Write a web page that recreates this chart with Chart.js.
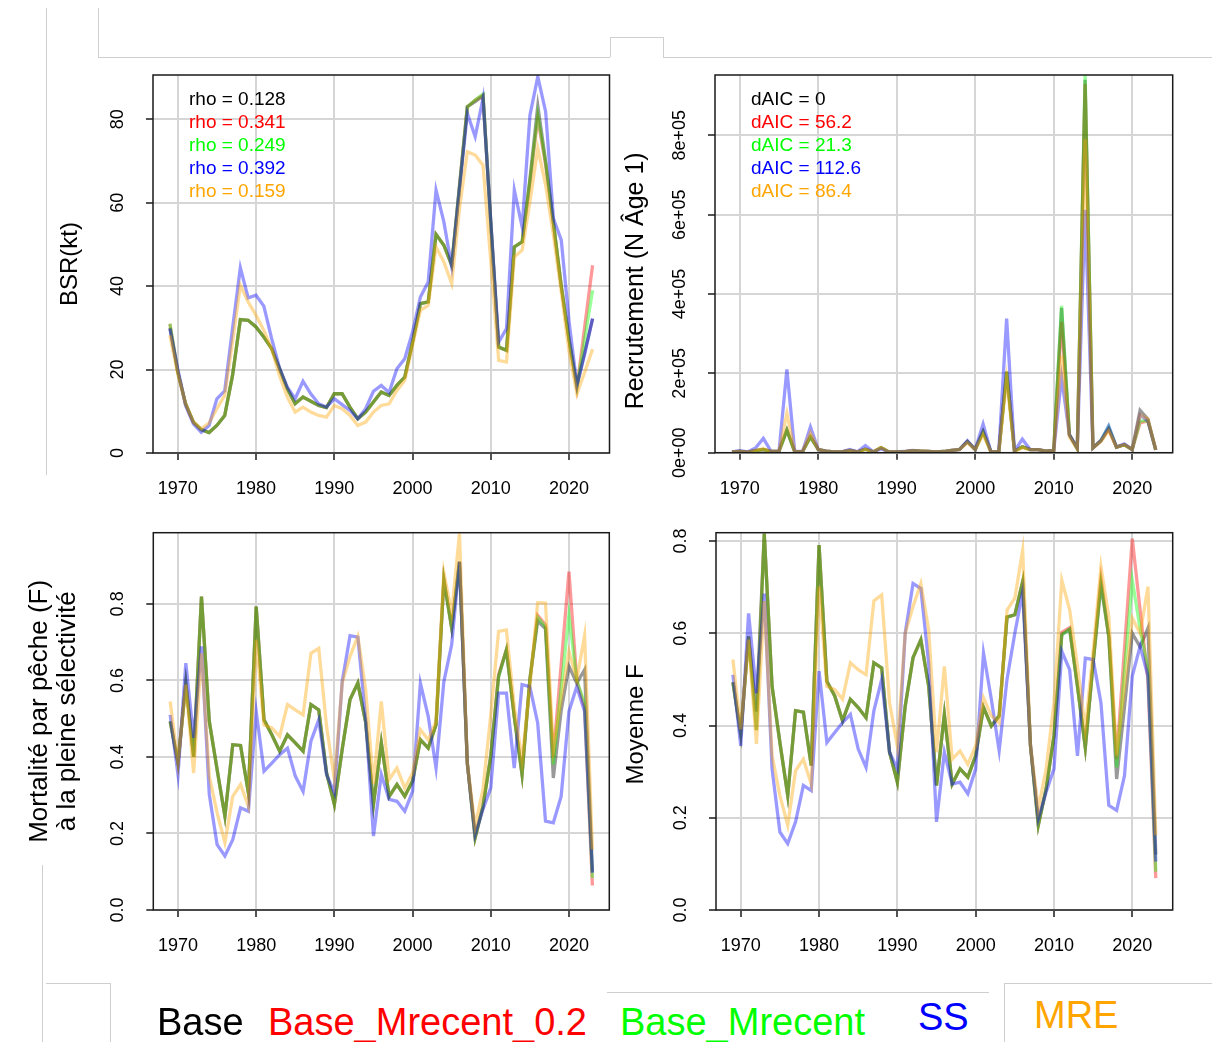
<!DOCTYPE html>
<html lang="fr">
<head>
<meta charset="utf-8">
<title>Diagnostics</title>
<script src="https://cdn.jsdelivr.net/npm/chart.js@4.4.1/dist/chart.umd.min.js"></script>
<style>
    body { margin: 0; background: #fff; }
    #page { position: relative; width: 1212px; height: 1042px; overflow: hidden; font-family: "Liberation Sans", Arial, sans-serif; }
    .panel { position: absolute; }
    .leg { position: absolute; font-size: 38px; line-height: 38px; white-space: nowrap; }
    .ln { position: absolute; background: #cfcfcf; }
</style>
</head>
<body>
<div id="page">
    <div class="panel" style="left:0;top:60px;width:612px;height:450px"><canvas id="c1"></canvas></div>
    <div class="panel" style="left:612px;top:60px;width:600px;height:450px"><canvas id="c2"></canvas></div>
    <div class="panel" style="left:0;top:515px;width:612px;height:460px"><canvas id="c3"></canvas></div>
    <div class="panel" style="left:612px;top:515px;width:600px;height:460px"><canvas id="c4"></canvas></div>

    <!-- traits gris du montage -->
    <div class="ln" style="left:46px;top:8px;width:1px;height:467px"></div>
    <div class="ln" style="left:98px;top:8px;width:1px;height:49px"></div>
    <div class="ln" style="left:98px;top:57px;width:512px;height:1px"></div>
    <div class="ln" style="left:610px;top:37px;width:1px;height:20px"></div>
    <div class="ln" style="left:610px;top:37px;width:53px;height:1px"></div>
    <div class="ln" style="left:663px;top:37px;width:1px;height:20px"></div>
    <div class="ln" style="left:663px;top:57px;width:549px;height:1px"></div>
    <div class="ln" style="left:42px;top:865px;width:1px;height:177px"></div>
    <div class="ln" style="left:46px;top:983px;width:64px;height:1px"></div>
    <div class="ln" style="left:110px;top:983px;width:1px;height:59px"></div>
    <div class="ln" style="left:607px;top:992px;width:382px;height:1px"></div>
    <div class="ln" style="left:1004px;top:983px;width:208px;height:1px"></div>
    <div class="ln" style="left:1004px;top:983px;width:1px;height:59px"></div>

    <div id="legend"></div>
</div>

<script>
// Années
const years = [
    1969, 1970, 1971, 1972, 1973, 1974, 1975, 1976, 1977, 1978,
    1979, 1980, 1981, 1982, 1983, 1984, 1985, 1986, 1987, 1988,
    1989, 1990, 1991, 1992, 1993, 1994, 1995, 1996, 1997, 1998,
    1999, 2000, 2001, 2002, 2003, 2004, 2005, 2006, 2007, 2008,
    2009, 2010, 2011, 2012, 2013, 2014, 2015, 2016, 2017, 2018,
    2019, 2020, 2021, 2022, 2023
];
const xTicks = [1970, 1980, 1990, 2000, 2010, 2020];

const seriesNames = ['Base', 'Base_Mrecent_0.2', 'Base_Mrecent', 'SS', 'MRE'];
const seriesColors = ['0, 0, 0', '255, 0, 0', '0, 255, 0', '0, 0, 255', '255, 165, 0'];

const rhoLabels = ['rho = 0.128', 'rho = 0.341', 'rho = 0.249', 'rho = 0.392', 'rho = 0.159'];
const daicLabels = ['dAIC = 0', 'dAIC = 56.2', 'dAIC = 21.3', 'dAIC = 112.6', 'dAIC = 86.4'];

// BSR (kt)
const bsrTicks = [0, 20, 40, 60, 80];
const bsrBase = [
    30.0, 19.5, 11.8, 7.4, 5.6, 4.9, 6.6, 9.0, 18.6, 32.0,
    31.8, 30.2, 27.8, 25.0, 20.2, 15.4, 11.8, 13.4, 12.4, 11.4,
    10.9, 14.2, 14.2, 11.0, 8.2, 9.8, 12.2, 14.6, 13.8, 16.2,
    18.2, 26.6, 35.8, 36.2, 52.4, 49.8, 45.0, 64.0, 83.0, 84.2,
    85.6, 55.0, 25.4, 24.6, 49.4, 50.6, 65.8, 83.2, 70.0, 55.0,
    40.0, 27.0, 16.2, 24.2, 32.2
];
const bsrM02 = [
    31.0, 19.5, 11.8, 7.4, 5.6, 4.9, 6.6, 9.0, 18.6, 32.0,
    31.8, 30.2, 27.8, 25.0, 20.2, 15.4, 11.8, 13.4, 12.4, 11.4,
    10.9, 14.2, 14.2, 11.0, 8.2, 9.8, 12.2, 14.6, 13.8, 16.2,
    18.2, 26.6, 35.8, 36.2, 52.4, 49.8, 45.0, 64.0, 83.0, 84.6,
    85.8, 55.0, 25.4, 24.6, 49.4, 50.6, 65.0, 80.2, 69.0, 55.0,
    40.0, 27.0, 15.6, 30.4, 45.0
];
const bsrMrecent = [
    31.0, 19.5, 11.8, 7.4, 5.6, 4.9, 6.6, 9.0, 18.6, 32.0,
    31.8, 30.2, 27.8, 25.0, 20.2, 15.4, 11.8, 13.4, 12.4, 11.4,
    10.9, 14.2, 14.2, 11.0, 8.2, 9.8, 12.2, 14.6, 13.8, 16.2,
    18.2, 26.6, 35.8, 36.2, 52.4, 49.8, 45.0, 64.0, 83.0, 84.6,
    86.0, 55.0, 25.4, 24.6, 49.4, 50.6, 65.4, 81.0, 69.5, 55.0,
    40.0, 27.0, 15.8, 27.4, 39.0
];
const bsrSS = [
    29.8, 20.2, 11.4, 7.0, 5.0, 6.6, 13.0, 14.9, 29.8, 44.4,
    37.2, 37.8, 35.2, 27.4, 20.4, 15.8, 13.0, 17.2, 14.2, 11.8,
    11.0, 13.0, 11.6, 10.2, 8.2, 10.6, 14.8, 16.2, 14.5, 20.2,
    22.6, 29.0, 37.4, 41.0, 63.0, 55.4, 44.6, 63.4, 81.4, 75.8,
    85.0, 55.4, 26.6, 29.8, 63.0, 54.2, 81.0, 90.2, 81.8, 56.2,
    51.0, 31.4, 16.2, 23.8, 32.2
];
const bsrMRE = [
    28.2, 19.0, 11.8, 7.4, 5.8, 7.2, 10.6, 13.8, 26.6, 40.2,
    36.2, 33.0, 29.4, 25.0, 18.6, 13.4, 9.8, 11.0, 9.8, 9.0,
    8.6, 11.4, 10.6, 9.0, 6.6, 7.4, 9.8, 11.4, 11.8, 15.0,
    17.4, 25.8, 34.2, 35.4, 49.4, 45.8, 40.6, 58.6, 72.2, 71.4,
    69.0, 45.8, 22.2, 21.8, 47.0, 48.6, 60.2, 73.0, 64.2, 52.2,
    38.6, 24.2, 14.2, 19.4, 24.9
];

// Recrutement (N âge 1)
const recTicks = [0, 200000, 400000, 600000, 800000];
const recBase = [
    2000, 3000, 1500, 5000, 8000, 3000, 4000, 57000, 2000, 3000,
    40000, 8000, 4000, 2000, 2000, 6000, 2000, 9000, 2000, 13000,
    2000, 2000, 2500, 5000, 4000, 3000, 2000, 3000, 6000, 8000,
    28000, 8000, 53000, 2000, 2000, 204000, 4000, 15000, 8000, 8000,
    4000, 6000, 365000, 45000, 10000, 940000, 12000, 30000, 60000, 14000,
    20000, 8000, 107000, 85000, 7000
];
const recM02 = [
    2000, 3000, 1500, 5000, 8000, 3000, 4000, 57000, 2000, 3000,
    40000, 8000, 4000, 2000, 2000, 6000, 2000, 9000, 2000, 13000,
    2000, 2000, 2500, 5000, 4000, 3000, 2000, 3000, 6000, 8000,
    28000, 8000, 53000, 2000, 2000, 204000, 4000, 15000, 8000, 8000,
    4000, 6000, 330000, 45000, 10000, 930000, 12000, 30000, 60000, 14000,
    20000, 8000, 75000, 80000, 7000
];
const recMrecent = [
    2000, 3000, 1500, 5000, 8000, 3000, 4000, 57000, 2000, 3000,
    40000, 8000, 4000, 2000, 2000, 6000, 2000, 9000, 2000, 13000,
    2000, 2000, 2500, 5000, 4000, 3000, 2000, 3000, 6000, 8000,
    28000, 8000, 53000, 2000, 2000, 204000, 4000, 15000, 8000, 8000,
    4000, 6000, 370000, 45000, 10000, 952000, 12000, 30000, 66000, 14000,
    20000, 8000, 80000, 80000, 7000
];
const recSS = [
    2000, 5000, 2000, 12000, 36000, 3000, 4000, 210000, 3000, 3000,
    65000, 8000, 4000, 2000, 2000, 8000, 2000, 18000, 2000, 10000,
    2000, 2000, 3000, 6000, 4000, 3000, 2000, 3000, 6000, 8000,
    30000, 8000, 72000, 2000, 2000, 338000, 4000, 34000, 8000, 8000,
    4000, 6000, 190000, 45000, 12000, 612000, 12000, 30000, 67000, 14000,
    22000, 8000, 95000, 80000, 7000
];
const recMRE = [
    2000, 3000, 1500, 6000, 10000, 3000, 4000, 99000, 2000, 3000,
    50000, 8000, 4000, 2000, 2000, 6000, 2000, 9000, 2000, 13000,
    2000, 2000, 2500, 5000, 4000, 3000, 2000, 3000, 6000, 8000,
    25000, 8000, 45000, 2000, 2000, 185000, 4000, 12000, 8000, 8000,
    4000, 6000, 245000, 40000, 10000, 790000, 12000, 28000, 55000, 14000,
    20000, 8000, 95000, 85000, 7000
];

// Mortalité par pêche (F) à la pleine sélectivité
const fTicks = [0, 0.2, 0.4, 0.6, 0.8];
const fBase = [
    0.493, 0.384, 0.593, 0.400, 0.819, 0.493, 0.367, 0.245, 0.432, 0.430,
    0.306, 0.793, 0.497, 0.458, 0.415, 0.458, 0.437, 0.415, 0.537, 0.523,
    0.358, 0.276, 0.420, 0.550, 0.593, 0.490, 0.276, 0.437, 0.297, 0.328,
    0.297, 0.337, 0.445, 0.423, 0.484, 0.863, 0.737, 0.910, 0.384, 0.189,
    0.271, 0.402, 0.610, 0.680, 0.506, 0.354, 0.602, 0.755, 0.735, 0.345,
    0.520, 0.637, 0.593, 0.628, 0.100
];
const fM02 = [
    0.493, 0.384, 0.593, 0.400, 0.819, 0.493, 0.367, 0.245, 0.432, 0.430,
    0.306, 0.793, 0.497, 0.458, 0.415, 0.458, 0.437, 0.415, 0.537, 0.523,
    0.358, 0.276, 0.420, 0.550, 0.593, 0.490, 0.276, 0.437, 0.297, 0.328,
    0.297, 0.337, 0.445, 0.423, 0.484, 0.863, 0.737, 0.910, 0.384, 0.189,
    0.271, 0.402, 0.615, 0.680, 0.506, 0.354, 0.602, 0.770, 0.745, 0.400,
    0.640, 0.884, 0.600, 0.530, 0.064
];
const fMrecent = [
    0.493, 0.384, 0.593, 0.400, 0.819, 0.493, 0.367, 0.245, 0.432, 0.430,
    0.306, 0.793, 0.497, 0.458, 0.415, 0.458, 0.437, 0.415, 0.537, 0.523,
    0.358, 0.276, 0.420, 0.550, 0.593, 0.490, 0.276, 0.437, 0.297, 0.328,
    0.297, 0.337, 0.445, 0.423, 0.484, 0.863, 0.737, 0.910, 0.384, 0.189,
    0.271, 0.402, 0.610, 0.680, 0.506, 0.354, 0.602, 0.765, 0.740, 0.380,
    0.580, 0.771, 0.600, 0.540, 0.084
];
const fSS = [
    0.510, 0.354, 0.645, 0.450, 0.689, 0.302, 0.171, 0.141, 0.184, 0.267,
    0.258, 0.519, 0.363, 0.384, 0.406, 0.423, 0.350, 0.310, 0.441, 0.497,
    0.354, 0.306, 0.597, 0.717, 0.713, 0.500, 0.193, 0.354, 0.289, 0.284,
    0.258, 0.310, 0.593, 0.506, 0.371, 0.597, 0.693, 0.910, 0.384, 0.197,
    0.263, 0.319, 0.567, 0.567, 0.371, 0.589, 0.584, 0.489, 0.232, 0.228,
    0.297, 0.519, 0.584, 0.519, 0.097
];
const fMRE = [
    0.545, 0.384, 0.589, 0.358, 0.671, 0.350, 0.254, 0.176, 0.297, 0.328,
    0.271, 0.706, 0.484, 0.476, 0.454, 0.537, 0.523, 0.510, 0.671, 0.684,
    0.480, 0.341, 0.593, 0.663, 0.715, 0.576, 0.330, 0.545, 0.341, 0.371,
    0.319, 0.358, 0.471, 0.445, 0.493, 0.882, 0.776, 0.984, 0.384, 0.219,
    0.315, 0.510, 0.728, 0.732, 0.532, 0.393, 0.584, 0.803, 0.802, 0.419,
    0.550, 0.676, 0.602, 0.717, 0.158
];

// Moyenne F
const mfTicks = [0, 0.2, 0.4, 0.6, 0.8];
const mfBase = [
    0.494, 0.381, 0.593, 0.430, 0.816, 0.485, 0.363, 0.248, 0.432, 0.429,
    0.313, 0.791, 0.496, 0.464, 0.410, 0.457, 0.439, 0.417, 0.536, 0.525,
    0.342, 0.277, 0.442, 0.547, 0.586, 0.485, 0.270, 0.424, 0.273, 0.306,
    0.288, 0.335, 0.439, 0.399, 0.421, 0.635, 0.640, 0.712, 0.356, 0.184,
    0.263, 0.378, 0.597, 0.609, 0.485, 0.352, 0.536, 0.704, 0.593, 0.284,
    0.440, 0.600, 0.570, 0.611, 0.120
];
const mfM02 = [
    0.494, 0.381, 0.593, 0.390, 0.816, 0.485, 0.363, 0.248, 0.432, 0.429,
    0.313, 0.791, 0.496, 0.464, 0.410, 0.457, 0.439, 0.417, 0.536, 0.525,
    0.342, 0.277, 0.442, 0.547, 0.586, 0.485, 0.270, 0.424, 0.273, 0.306,
    0.288, 0.335, 0.439, 0.399, 0.421, 0.635, 0.640, 0.712, 0.356, 0.184,
    0.263, 0.378, 0.602, 0.612, 0.485, 0.352, 0.536, 0.718, 0.593, 0.327,
    0.566, 0.805, 0.650, 0.500, 0.069
];
const mfMrecent = [
    0.494, 0.381, 0.593, 0.390, 0.816, 0.485, 0.363, 0.248, 0.432, 0.429,
    0.313, 0.791, 0.496, 0.464, 0.410, 0.457, 0.439, 0.417, 0.536, 0.525,
    0.342, 0.277, 0.442, 0.547, 0.586, 0.485, 0.270, 0.424, 0.273, 0.306,
    0.288, 0.335, 0.439, 0.399, 0.421, 0.635, 0.640, 0.712, 0.356, 0.184,
    0.263, 0.378, 0.597, 0.609, 0.485, 0.352, 0.536, 0.710, 0.593, 0.309,
    0.520, 0.715, 0.610, 0.521, 0.083
];
const mfSS = [
    0.510, 0.356, 0.643, 0.470, 0.686, 0.306, 0.169, 0.144, 0.191, 0.270,
    0.259, 0.518, 0.363, 0.385, 0.406, 0.424, 0.349, 0.309, 0.432, 0.500,
    0.342, 0.306, 0.600, 0.708, 0.697, 0.535, 0.191, 0.342, 0.273, 0.277,
    0.252, 0.306, 0.557, 0.457, 0.345, 0.500, 0.600, 0.690, 0.356, 0.198,
    0.256, 0.306, 0.561, 0.521, 0.334, 0.546, 0.543, 0.449, 0.227, 0.216,
    0.291, 0.507, 0.572, 0.507, 0.105
];
const mfMRE = [
    0.543, 0.392, 0.586, 0.360, 0.670, 0.335, 0.248, 0.184, 0.302, 0.327,
    0.273, 0.701, 0.485, 0.478, 0.457, 0.536, 0.521, 0.510, 0.670, 0.683,
    0.450, 0.355, 0.600, 0.658, 0.708, 0.607, 0.342, 0.528, 0.327, 0.345,
    0.316, 0.356, 0.460, 0.421, 0.406, 0.650, 0.676, 0.780, 0.356, 0.220,
    0.306, 0.450, 0.715, 0.651, 0.528, 0.392, 0.560, 0.744, 0.636, 0.335,
    0.480, 0.633, 0.600, 0.701, 0.162
];

const FONT = '"Liberation Sans", Arial, sans-serif';
Chart.defaults.font.family = FONT;

function sciLabel(v) {
    if (v === 0) return '0e+00';
    return v.toExponential(0).replace(/e\+(\d)$/, 'e+0$1');
}

function makePanel(cfg) {
    const ctx = document.getElementById(cfg.id).getContext('2d');

    // Axes, titres et cadre à la manière de R
    const rStyle = {
        id: 'rStyle_' + cfg.id,
        afterDraw(chart) {
            const c = chart.ctx;
            const a = chart.chartArea;
            const xs = chart.scales.x;
            const ys = chart.scales.y;
            c.save();
            c.fillStyle = '#000';
            c.textAlign = 'center';
            c.textBaseline = 'middle';
            c.font = '18px ' + FONT;
            xs.ticks.forEach(t => {
                c.fillText(String(t.value), xs.getPixelForValue(t.value), a.bottom + 36);
            });
            ys.ticks.forEach(t => {
                c.save();
                c.translate(a.left - 35, ys.getPixelForValue(t.value));
                c.rotate(-Math.PI / 2);
                c.fillText(cfg.yFormat(t.value), 0, 0);
                c.restore();
            });
            c.font = cfg.titleSize + 'px ' + FONT;
            cfg.yTitle.forEach((line, i) => {
                c.save();
                c.translate(a.left - cfg.yTitleGap[i], (a.top + a.bottom) / 2 + cfg.yTitleShift);
                c.rotate(-Math.PI / 2);
                c.fillText(line, 0, 0);
                c.restore();
            });
            if (cfg.notes) {
                c.textAlign = 'left';
                c.font = '19px ' + FONT;
                cfg.notes.forEach((txt, i) => {
                    c.fillStyle = 'rgb(' + seriesColors[i] + ')';
                    c.fillText(txt, a.left + 36, a.top + 25 + i * 23);
                });
            }
            c.strokeStyle = '#1a1a1a';
            c.lineWidth = 1.5;
            c.strokeRect(a.left, a.top, a.right - a.left, a.bottom - a.top);
            c.restore();
        }
    };

    return new Chart(ctx, {
        type: 'line',
        data: {
            datasets: cfg.series.map((vals, i) => ({
                label: seriesNames[i],
                data: years.map((yr, k) => ({ x: yr, y: vals[k] })),
                borderColor: 'rgba(' + seriesColors[i] + ', 0.4)',
                borderWidth: 3.3,
                pointRadius: 0,
                tension: 0,
                fill: false,
                order: 5 - i // Base dessous, MRE dessus
            }))
        },
        options: {
            responsive: true,
            maintainAspectRatio: false,
            animation: false,
            events: [],
            layout: {
                padding: { left: 0, top: cfg.padTop, right: cfg.padRight, bottom: 0 }
            },
            plugins: {
                legend: { display: false },
                tooltip: { enabled: false }
            },
            scales: {
                x: {
                    type: 'linear',
                    min: 1966.84,
                    max: 2025.16,
                    afterBuildTicks: s => { s.ticks = xTicks.map(v => ({ value: v })); },
                    afterFit: s => { s.height = cfg.xAxisHeight; },
                    ticks: { display: false },
                    border: { display: false },
                    grid: { color: '#d6d6d6', lineWidth: 2, tickColor: '#1a1a1a', tickLength: 7, tickWidth: 1.5 }
                },
                y: {
                    type: 'linear',
                    min: 0,
                    max: cfg.yMax,
                    afterBuildTicks: s => { s.ticks = cfg.yTicks.map(v => ({ value: v })); },
                    afterFit: s => { s.width = cfg.yAxisWidth; },
                    ticks: { display: false },
                    border: { display: false },
                    grid: { color: '#d6d6d6', lineWidth: 2, tickColor: '#1a1a1a', tickLength: 7, tickWidth: 1.5 }
                }
            }
        },
        plugins: [rStyle]
    });
}

makePanel({
    id: 'c1',
    series: [bsrBase, bsrM02, bsrMrecent, bsrSS, bsrMRE],
    yMax: 90.6,
    yTicks: bsrTicks,
    yFormat: v => String(v),
    yTitle: ['BSR(kt)'],
    titleSize: 24,
    yTitleGap: [83],
    yTitleShift: 0,
    notes: rhoLabels,
    yAxisWidth: 153,
    xAxisHeight: 57,
    padTop: 15,
    padRight: 2.5
});

makePanel({
    id: 'c2',
    series: [recBase, recM02, recMrecent, recSS, recMRE],
    yMax: 952000,
    yTicks: recTicks,
    yFormat: sciLabel,
    yTitle: ['Recrutement (N Âge 1)'],
    titleSize: 25,
    yTitleGap: [79],
    yTitleShift: 17,
    notes: daicLabels,
    yAxisWidth: 103,
    xAxisHeight: 57.3,
    padTop: 15,
    padRight: 39.3
});

makePanel({
    id: 'c3',
    series: [fBase, fM02, fMrecent, fSS, fMRE],
    yMax: 0.986,
    yTicks: fTicks,
    yFormat: v => v.toFixed(1),
    yTitle: ['Mortalité par pêche (F)', 'à la pleine sélectivité'],
    titleSize: 26,
    yTitleGap: [113, 85],
    yTitleShift: -10,
    notes: null,
    yAxisWidth: 153.3,
    xAxisHeight: 65,
    padTop: 17.7,
    padRight: 2.7
});

makePanel({
    id: 'c4',
    series: [mfBase, mfM02, mfMrecent, mfSS, mfMRE],
    yMax: 0.818,
    yTicks: mfTicks,
    yFormat: v => v.toFixed(1),
    yTitle: ['Moyenne F'],
    titleSize: 24,
    yTitleGap: [80],
    yTitleShift: 3,
    notes: null,
    yAxisWidth: 104,
    xAxisHeight: 65,
    padTop: 17.7,
    padRight: 39.3
});

// Légende commune en bas
const legendLeft = [157, 268, 620, 918, 1034];
const legendTop = [1003, 1003, 1003, 998, 996];
const legend = document.getElementById('legend');
seriesNames.forEach((name, i) => {
    const d = document.createElement('div');
    d.className = 'leg';
    d.textContent = name;
    d.style.left = legendLeft[i] + 'px';
    d.style.top = legendTop[i] + 'px';
    d.style.color = 'rgb(' + seriesColors[i] + ')';
    legend.appendChild(d);
});
</script>
</body>
</html>
